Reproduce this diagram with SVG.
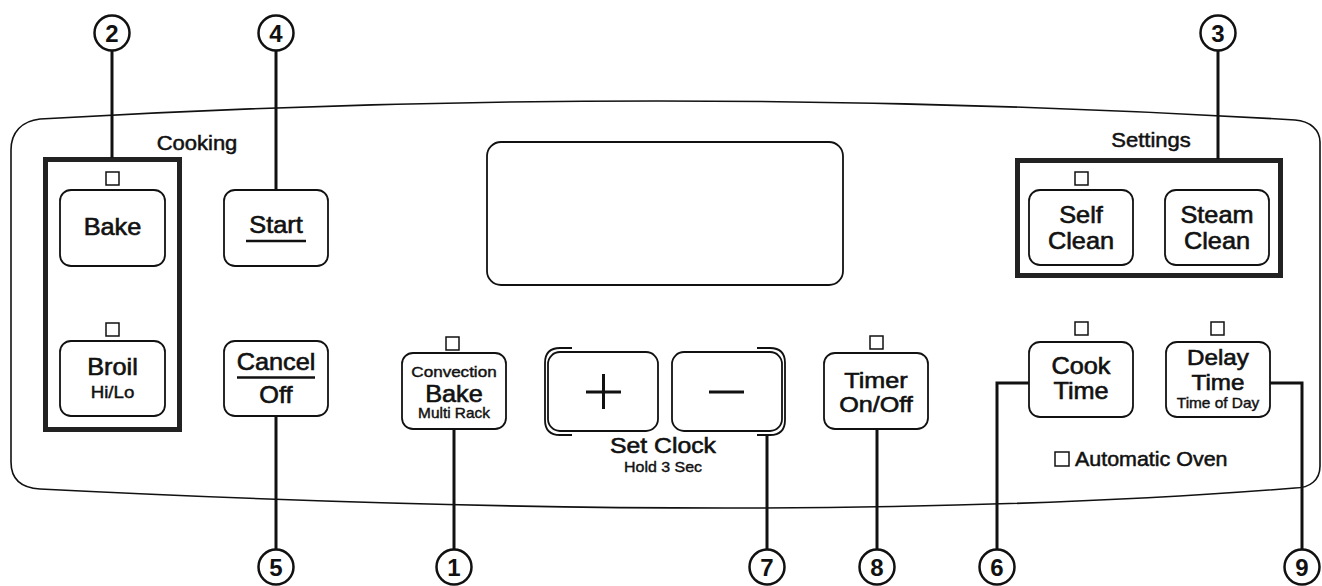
<svg xmlns="http://www.w3.org/2000/svg" width="1322" height="586" viewBox="0 0 1322 586">
<style>
  .panel{fill:none;stroke:#111;stroke-width:1.6}
  .btn{fill:#fff;stroke:#111;stroke-width:1.8}
  .grp{fill:none;stroke:#222;stroke-width:5}
  .ind{fill:#fff;stroke:#111;stroke-width:1.5}
  .conn{fill:none;stroke:#111;stroke-width:3}
  .num circle{fill:#fff;stroke:#111;stroke-width:2.5}
  .num text{font-family:"Liberation Sans",Arial,sans-serif;font-weight:bold;font-size:24px;fill:#111;text-anchor:middle;stroke:none}
  text{font-family:"Liberation Sans",Arial,sans-serif;fill:#111;text-anchor:middle;stroke:#111;stroke-width:0.6}
  .l{font-size:23px}
  .s{font-size:14px;stroke-width:0.4}
  .h{font-size:20px;stroke-width:0.5}
  .rule{stroke:#111;stroke-width:2.5}
</style>

<g id="panel">
  <path class="panel" d="M40,119 Q665,82.5 1295,120 C1310,121 1320,130 1320,142 L1320,466 C1320,480 1310,488 1295,488 Q800,527.5 40,489 C22,488 11,480 11,462 L11,150 C11,132 22,121 40,119 Z"/>
</g>

<g id="display">
  <rect class="btn" x="487" y="142" width="356" height="143" rx="14"/>
</g>

<g id="cooking-group">
  <text class="h" transform="translate(197,150) scale(1.1,1)">Cooking</text>
  <rect class="grp" x="45.5" y="159.5" width="134" height="270"/>
</g>

<g id="bake">
  <rect class="ind" x="106" y="172" width="13" height="13"/>
  <rect class="btn" x="60" y="190" width="105" height="76" rx="11"/>
  <text class="l" transform="translate(112.5,235) scale(1.1,1)">Bake</text>
</g>

<g id="broil">
  <rect class="ind" x="106" y="323" width="13" height="13"/>
  <rect class="btn" x="60" y="341" width="105" height="75" rx="11"/>
  <text class="l" transform="translate(112.5,375) scale(1.1,1)">Broil</text>
  <text transform="translate(112.5,398) scale(1.1,1)" style="font-size:17px;stroke-width:0.45">Hi/Lo</text>
</g>

<g id="start">
  <rect class="btn" x="224" y="190" width="104" height="76" rx="11"/>
  <text class="l" transform="translate(276,233) scale(1.1,1)">Start</text>
  <line class="rule" x1="246" y1="241" x2="306" y2="241"/>
</g>

<g id="cancel">
  <rect class="btn" x="224" y="341" width="104" height="75" rx="11"/>
  <text class="l" transform="translate(276,370) scale(1.1,1)">Cancel</text>
  <line class="rule" x1="237" y1="377.5" x2="315" y2="377.5"/>
  <text class="l" transform="translate(276,403) scale(1.1,1)">Off</text>
</g>

<g id="convection-bake">
  <rect class="ind" x="446" y="337" width="13" height="13"/>
  <rect class="btn" x="402" y="353" width="104" height="76" rx="11"/>
  <text transform="translate(454,377) scale(1.1,1)" style="font-size:15.5px;stroke-width:0.45">Convection</text>
  <text class="l" transform="translate(454,402) scale(1.1,1)">Bake</text>
  <text class="s" transform="translate(454,418) scale(1.1,1)">Multi Rack</text>
</g>

<g id="set-clock">
  <path class="btn" style="fill:none" d="M572,348 L560,348 Q545,348 545,363 L545,420 Q545,435 560,435 L572,435"/>
  <path class="btn" style="fill:none" d="M757,348 L770,348 Q785,348 785,363 L785,420 Q785,435 770,435 L757,435"/>
  <rect class="btn" x="548" y="352" width="110" height="79" rx="12"/>
  <rect class="btn" x="672" y="352" width="110" height="79" rx="12"/>
  <line class="rule" style="stroke-width:3" x1="586" y1="392" x2="621" y2="392"/>
  <line class="rule" style="stroke-width:3" x1="603.5" y1="374" x2="603.5" y2="409"/>
  <line class="rule" style="stroke-width:3" x1="709" y1="392" x2="744" y2="392"/>
  <text transform="translate(663,452.5) scale(1.1,1)" style="font-size:22.5px">Set Clock</text>
  <text transform="translate(663,472) scale(1.1,1)" style="font-size:14.5px;stroke-width:0.4">Hold 3 Sec</text>
</g>

<g id="timer">
  <rect class="ind" x="870" y="336" width="13" height="13"/>
  <rect class="btn" x="824" y="353" width="104" height="76" rx="11"/>
  <text transform="translate(876,388) scale(1.12,1)" style="font-size:22.5px">Timer</text>
  <text transform="translate(876,412) scale(1.12,1)" style="font-size:22.5px">On/Off</text>
</g>

<g id="cook-time">
  <rect class="ind" x="1075" y="322" width="13" height="13"/>
  <rect class="btn" x="1029" y="342" width="104" height="75" rx="11"/>
  <text class="l" transform="translate(1081,373.5) scale(1.1,1)">Cook</text>
  <text class="l" transform="translate(1081,398.5) scale(1.1,1)">Time</text>
</g>

<g id="delay-time">
  <rect class="ind" x="1211" y="322" width="13" height="13"/>
  <rect class="btn" x="1166" y="342" width="104" height="75" rx="11"/>
  <text transform="translate(1218,365) scale(1.1,1)" style="font-size:22px">Delay</text>
  <text transform="translate(1218,389.5) scale(1.1,1)" style="font-size:22px">Time</text>
  <text class="s" transform="translate(1218,407.5) scale(1.1,1)">Time of Day</text>
</g>

<g id="automatic-oven">
  <rect class="ind" x="1055" y="452" width="14" height="14"/>
  <text transform="translate(1075,466) scale(1.1,1)" style="font-size:19.5px;text-anchor:start;stroke-width:0.5">Automatic Oven</text>
</g>

<g id="settings-group">
  <text class="h" transform="translate(1151,147) scale(1.1,1)">Settings</text>
  <rect class="grp" x="1017.5" y="160.5" width="263" height="115"/>
</g>

<g id="self-clean">
  <rect class="ind" x="1075" y="172" width="13" height="13"/>
  <rect class="btn" x="1029" y="190" width="104" height="75" rx="11"/>
  <text class="l" transform="translate(1081,223) scale(1.1,1)">Self</text>
  <text class="l" transform="translate(1081,248.5) scale(1.1,1)">Clean</text>
</g>

<g id="steam-clean">
  <rect class="btn" x="1165" y="190" width="104" height="75" rx="11"/>
  <text class="l" transform="translate(1217,223) scale(1.1,1)">Steam</text>
  <text class="l" transform="translate(1217,248.5) scale(1.1,1)">Clean</text>
</g>

<g id="connectors">
  <line class="conn" x1="112" y1="50" x2="112" y2="158"/>
  <line class="conn" x1="276" y1="50" x2="276" y2="190"/>
  <line class="conn" x1="1218" y1="50" x2="1218" y2="159"/>
  <line class="conn" x1="276" y1="416" x2="276" y2="550"/>
  <line class="conn" x1="454" y1="429" x2="454" y2="550"/>
  <line class="conn" x1="767" y1="435" x2="767" y2="550"/>
  <line class="conn" x1="877" y1="429" x2="877" y2="550"/>
  <polyline class="conn" points="1029,383 997,383 997,550"/>
  <polyline class="conn" points="1270,383 1302,383 1302,550"/>
</g>

<g id="callout-2" class="num"><circle cx="112" cy="33" r="17.5"/><text x="112" y="41.5">2</text></g>
<g id="callout-4" class="num"><circle cx="276" cy="33" r="17.5"/><text x="276" y="41.5">4</text></g>
<g id="callout-3" class="num"><circle cx="1218" cy="33" r="17.5"/><text x="1218" y="41.5">3</text></g>
<g id="callout-5" class="num"><circle cx="276" cy="567" r="17.5"/><text x="276" y="575.5">5</text></g>
<g id="callout-1" class="num"><circle cx="454" cy="567" r="17.5"/><text x="454" y="575.5">1</text></g>
<g id="callout-7" class="num"><circle cx="767" cy="567" r="17.5"/><text x="767" y="575.5">7</text></g>
<g id="callout-8" class="num"><circle cx="877" cy="567" r="17.5"/><text x="877" y="575.5">8</text></g>
<g id="callout-6" class="num"><circle cx="997" cy="567" r="17.5"/><text x="997" y="575.5">6</text></g>
<g id="callout-9" class="num"><circle cx="1302" cy="567" r="17.5"/><text x="1302" y="575.5">9</text></g>
</svg>
